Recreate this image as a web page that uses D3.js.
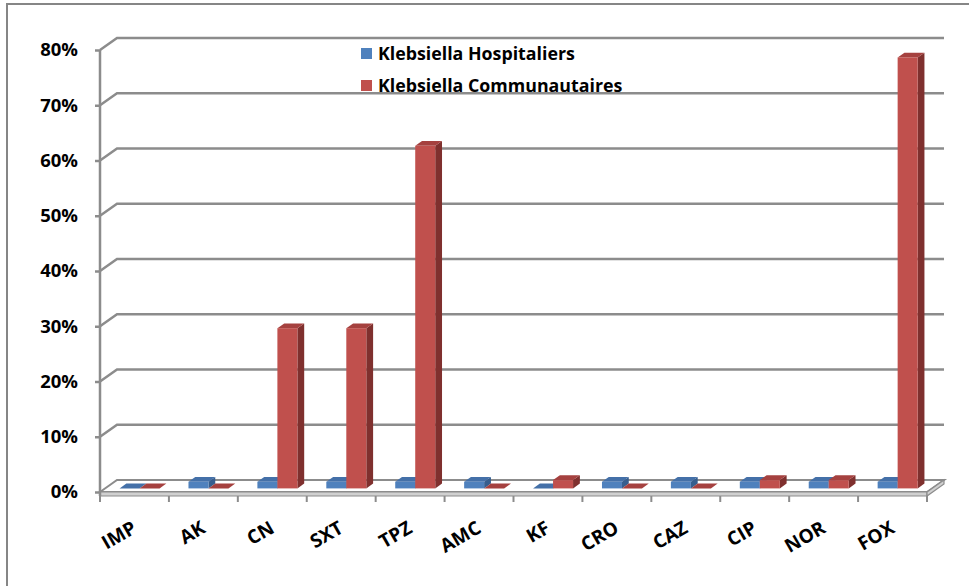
<!DOCTYPE html>
<html>
<head>
<meta charset="utf-8">
<script src="https://cdn.jsdelivr.net/npm/d3@7"></script>
<style>
  body { margin: 0; background: #fff; }
  text { font-family: "Open Sans", "Liberation Sans", sans-serif; font-weight: bold; fill: #000; }
</style>
</head>
<body>
<svg id="chart" width="969" height="586"></svg>
<script>
// chart data
const categories = ["IMP", "AK", "CN", "SXT", "TPZ", "AMC", "KF", "CRO", "CAZ", "CIP", "NOR", "FOX"];
const hospitaliers = [0, 0.012, 0.012, 0.012, 0.012, 0.012, 0, 0.012, 0.012, 0.012, 0.012, 0.012];
const communautaires = [0, 0, 0.29, 0.29, 0.62, 0, 0.015, 0, 0, 0.015, 0.015, 0.78];
const seriesNames = ["Klebsiella Hospitaliers", "Klebsiella Communautaires"];
const yTicks = [0, 0.1, 0.2, 0.3, 0.4, 0.5, 0.6, 0.7, 0.8];

const svg = d3.select("#chart");

// 3D layout
const left = 100, right = 927, floorY = 492, topY = 50;
const depthX = 17, depthY = -12;   // offset from front plane to back wall
const gridColor = "#8c8c8c";

const xScale = d3.scaleBand().domain(categories).range([left, right]);
const yScale = d3.scaleLinear().domain([0, 0.8]).range([floorY, topY]);

// outer border
svg.append("rect")
  .attr("x", 7).attr("y", 4).attr("width", 980).attr("height", 600)
  .attr("fill", "none").attr("stroke", "#868686").attr("stroke-width", 2);

// gridlines on the back wall with the diagonal links to the front axis
svg.append("g")
  .selectAll("path")
  .data(yTicks.filter((t) => t > 0))
  .enter()
  .append("path")
  .attr("d", (t) => {
    const y = yScale(t);
    return `M${left},${y}L${left + depthX},${y + depthY}L${right + depthX},${y + depthY}`;
  })
  .attr("fill", "none")
  .attr("stroke", gridColor)
  .attr("stroke-width", 2.5);

// floor slab
const floor = svg.append("g");
floor.append("path")
  .attr("d", `M${left},${floorY}L${left + depthX},${floorY + depthY}L${right + depthX},${floorY + depthY}L${right},${floorY}Z`)
  .attr("fill", "#fff").attr("stroke", gridColor).attr("stroke-width", 2);
floor.append("path")
  .attr("d", `M${left},${floorY}L${right},${floorY}L${right},${floorY + 4}L${left},${floorY + 4}Z`)
  .attr("fill", "#d0d0d0").attr("stroke", gridColor).attr("stroke-width", 1.2);
floor.append("path")
  .attr("d", `M${right},${floorY}L${right + depthX},${floorY + depthY}L${right + depthX},${floorY + depthY + 4}L${right},${floorY + 4}Z`)
  .attr("fill", "#d0d0d0").attr("stroke", gridColor).attr("stroke-width", 1.2);

// bars
const series = [
  { values: hospitaliers, front: "#4f81bd", top: "#4470a8", side: "#365e8e" },
  { values: communautaires, front: "#c0504d", top: "#a5413f", side: "#7f302e" },
];
const groupWidth = 40;
const barWidth = groupWidth / series.length;
const f0 = 0.3, fd = 0.4;  // bar front depth and bar thickness, as fractions of the depth
const ox = depthX * f0, oy = depthY * f0;
const bx = depthX * fd, by = depthY * fd;

const barsG = svg.append("g");
categories.forEach((c, i) => {
  series.forEach((s, k) => {
    const v = s.values[i];
    const x0 = xScale(c) + (xScale.bandwidth() - groupWidth) / 2 + k * barWidth + ox;
    const x1 = x0 + barWidth;
    const yb = yScale(0) + oy;
    const yt = yScale(v) + oy;
    const g = barsG.append("g");
    g.append("path")
      .attr("d", `M${x1},${yb}L${x1 + bx},${yb + by}L${x1 + bx},${yt + by}L${x1},${yt}Z`)
      .attr("fill", s.side);
    g.append("path")
      .attr("d", `M${x0},${yt}L${x0 + bx},${yt + by}L${x1 + bx},${yt + by}L${x1},${yt}Z`)
      .attr("fill", s.top);
    g.append("rect")
      .attr("x", x0).attr("y", yt)
      .attr("width", barWidth).attr("height", yb - yt)
      .attr("fill", s.front);
  });
});

// front value axis
const yAxis = d3.axisLeft(yScale)
  .tickValues(yTicks)
  .tickFormat(d3.format(".0%"))
  .tickSize(5)
  .tickPadding(17);
const yAxisG = svg.append("g")
  .attr("transform", `translate(${left},0)`)
  .call(yAxis);
yAxisG.select(".domain").remove();
yAxisG.selectAll("line").attr("stroke", gridColor).attr("stroke-width", 2.5);
yAxisG.selectAll("text")
  .style("font-family", "'Open Sans', sans-serif")
  .style("font-weight", "bold")
  .style("font-size", "18.5px")
  .attr("fill", "#000");
svg.append("line")
  .attr("x1", left).attr("x2", left)
  .attr("y1", topY).attr("y2", floorY + 4)
  .attr("stroke", gridColor).attr("stroke-width", 2.5);

// category ticks under the floor
const tickXs = categories.map((c) => xScale(c)).concat([right]);
svg.append("g")
  .selectAll("line")
  .data(tickXs)
  .enter()
  .append("line")
  .attr("x1", (d) => d).attr("x2", (d) => d)
  .attr("y1", floorY + 4).attr("y2", floorY + 10)
  .attr("stroke", gridColor).attr("stroke-width", 2);

// category labels, rotated
svg.append("g")
  .selectAll("text")
  .data(categories)
  .enter()
  .append("text")
  .attr("transform", (d) => `translate(${xScale(d) + xScale.bandwidth() / 2},${floorY + 34}) rotate(-30)`)
  .attr("text-anchor", "end")
  .attr("dy", "0.35em")
  .style("font-size", "19px")
  .text((d) => d);

// legend
const legend = svg.append("g")
  .selectAll("g")
  .data(seriesNames)
  .enter()
  .append("g")
  .attr("transform", (d, i) => `translate(361,${48 + i * 32})`);
legend.append("rect")
  .attr("width", 11).attr("height", 11)
  .attr("fill", (d, i) => series[i].front);
legend.append("text")
  .attr("x", 17).attr("y", 6)
  .attr("dy", "0.35em")
  .style("font-size", "17.8px")
  .text((d) => d);
</script>
</body>
</html>
